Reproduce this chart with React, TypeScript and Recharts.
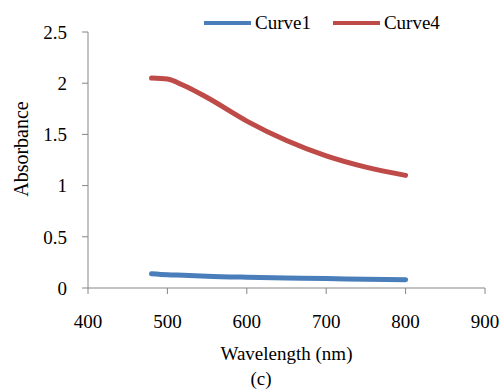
import React from 'react';
import { LineChart, Line, XAxis, YAxis, Legend } from 'recharts';

const wavelengths = [480, 500, 520, 550, 600, 650, 700, 750, 800];
const curve1 = [0.14, 0.13, 0.125, 0.115, 0.105, 0.098, 0.092, 0.086, 0.08];
const curve4 = [2.05, 2.04, 1.98, 1.86, 1.63, 1.44, 1.29, 1.18, 1.1];
const xTicks = [400, 500, 600, 700, 800, 900];
const yTicks = [0, 0.5, 1, 1.5, 2, 2.5];

const data = wavelengths.map((w, i) => ({ w, curve1: curve1[i], curve4: curve4[i] }));

const FONT = '"Liberation Serif", "Times New Roman", serif';
const FS = 19;
const AXIS = '#868686';

const LegendContent = (props: any) => {
  const items = props.payload || [];
  return (
    <div style={{ display: 'flex', fontFamily: FONT, fontSize: FS, color: '#000', lineHeight: '22px', height: 22 }}>
      {items.map((it: any) => (
        <div key={it.value} style={{ display: 'flex', alignItems: 'center', marginRight: 22 }}>
          <div style={{ width: 47, height: 4, background: it.color, marginRight: 4 }} />
          <span>{it.value}</span>
        </div>
      ))}
    </div>
  );
};

const YLabel = (props: any) => {
  const vb = props.viewBox;
  const cx = 21;
  const cy = vb.y + vb.height / 2 - 11;
  return (
    <text x={cx} y={cy} transform={`rotate(-90 ${cx} ${cy})`} textAnchor="middle" dominantBaseline="central"
      fontFamily={FONT} fontSize={20} fill="#000">Absorbance</text>
  );
};

export default function App() {
  return (
    <div style={{ position: 'absolute', left: 0, top: 0, width: 500, height: 392, background: '#fff' }}>
      <LineChart width={500} height={392} data={data} margin={{ top: 10, right: 15, bottom: 20, left: 28 }}>
        <XAxis
          dataKey="w"
          type="number"
          domain={[400, 900]}
          ticks={xTicks}
          stroke={AXIS}
          tickLine={{ stroke: AXIS }}
          tickSize={6}
          tick={{ fill: '#000', fontFamily: FONT, fontSize: FS }}
          tickMargin={21}
          height={84}
          label={{ value: 'Wavelength (nm)', position: 'insideBottom', offset: 12, fill: '#000', fontFamily: FONT, fontSize: FS }}
        />
        <YAxis
          type="number"
          domain={[0, 2.5]}
          ticks={yTicks}
          stroke={AXIS}
          tickLine={{ stroke: AXIS }}
          tickSize={6}
          tick={{ fill: '#000', fontFamily: FONT, fontSize: FS }}
          tickMargin={15}
          width={60}
          label={<YLabel />}
        />
        <Legend
          verticalAlign="top"
          content={<LegendContent />}
          wrapperStyle={{ position: 'absolute', top: 12, left: 204, width: 300 }}
        />
        <Line type="monotone" dataKey="curve1" name="Curve1" stroke="#4a7ebb" strokeWidth={5}
          dot={false} strokeLinecap="round" isAnimationActive={false} />
        <Line type="monotone" dataKey="curve4" name="Curve4" stroke="#be4b48" strokeWidth={5}
          dot={false} strokeLinecap="round" isAnimationActive={false} />
      </LineChart>
      <div style={{ position: 'absolute', left: 22, width: 478, top: 368, textAlign: 'center', fontFamily: FONT, fontSize: FS, lineHeight: '22px' }}>
        (c)
      </div>
    </div>
  );
}
